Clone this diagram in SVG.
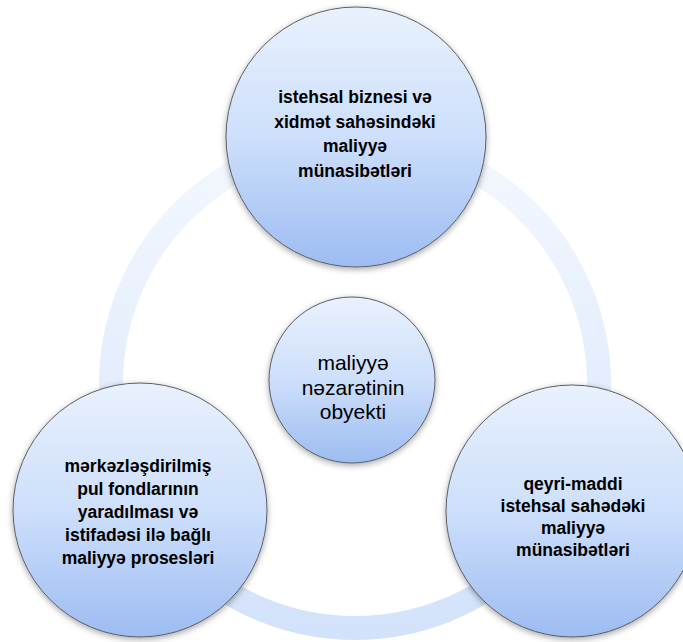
<svg xmlns="http://www.w3.org/2000/svg" width="683" height="642" viewBox="0 0 683 642">
<defs>
<linearGradient id="nodeGrad" x1="0" y1="0" x2="0" y2="1">
<stop offset="0" stop-color="#e9f1fd"/>
<stop offset="0.5" stop-color="#cddffb"/>
<stop offset="1" stop-color="#9dbcf2"/>
</linearGradient>
<linearGradient id="ringGrad" gradientUnits="userSpaceOnUse" x1="0" y1="140" x2="0" y2="640">
<stop offset="0" stop-color="#f4f8fe"/>
<stop offset="1" stop-color="#d2e2fa"/>
</linearGradient>
<filter id="shadow" x="-20%" y="-20%" width="140%" height="140%">
<feDropShadow dx="0" dy="2" stdDeviation="3" flood-color="#000" flood-opacity="0.35"/>
</filter>
<style>
.node circle { fill: url(#nodeGrad); stroke: #5a5f66; stroke-width: 1; filter: url(#shadow); }
.lbl { font-family: "Liberation Sans", Arial, sans-serif; font-weight: bold; font-size: 17.5px; fill: #000; text-anchor: middle; }
.center-lbl { font-family: "Liberation Sans", Arial, sans-serif; font-size: 21px; fill: #000; text-anchor: middle; }
</style>
</defs>
<rect width="683" height="642" fill="#ffffff"/>
<g id="connectors">
<circle cx="355" cy="384" r="244" fill="none" stroke="url(#ringGrad)" stroke-width="24"/>
</g>
<g id="node-top" class="node">
<circle cx="356" cy="137" r="130"/>
<text class="lbl" x="355" y="103">istehsal biznesi və</text>
<text class="lbl" x="355" y="128">xidmət sahəsindəki</text>
<text class="lbl" x="355" y="152">maliyyə</text>
<text class="lbl" x="355" y="177">münasibətləri</text>
</g>
<g id="node-center" class="node">
<circle cx="352" cy="380" r="83"/>
<text class="center-lbl" x="353" y="370">maliyyə</text>
<text class="center-lbl" x="353" y="395">nəzarətinin</text>
<text class="center-lbl" x="353" y="419">obyekti</text>
</g>
<g id="node-left" class="node">
<circle cx="140" cy="510" r="127"/>
<text class="lbl" x="138" y="472">mərkəzləşdirilmiş</text>
<text class="lbl" x="138" y="495">pul fondlarının</text>
<text class="lbl" x="138" y="518">yaradılması və</text>
<text class="lbl" x="138" y="541">istifadəsi ilə bağlı</text>
<text class="lbl" x="138" y="564">maliyyə prosesləri</text>
</g>
<g id="node-right" class="node">
<circle cx="572" cy="511" r="126"/>
<text class="lbl" x="573" y="490">qeyri-maddi</text>
<text class="lbl" x="573" y="512">istehsal sahədəki</text>
<text class="lbl" x="573" y="534">maliyyə</text>
<text class="lbl" x="573" y="556">münasibətləri</text>
</g>
</svg>
